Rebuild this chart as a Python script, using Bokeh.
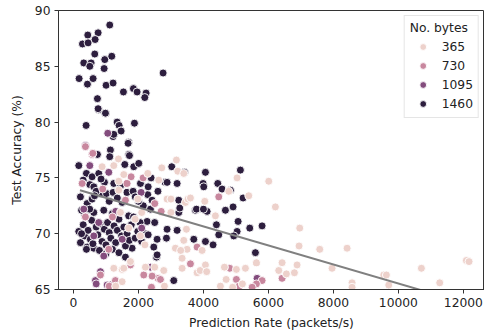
from bokeh.plotting import figure
from bokeh.models import Range1d, FixedTicker, Legend, LegendItem, ColumnDataSource
from bokeh.embed import file_html
from bokeh.resources import INLINE

# ---------------- data ----------------
byte_levels = [365, 730, 1095, 1460]
level_colors = ["#edd1cb", "#c8879e", "#834c7d", "#2d1e3e"]

x_1460 = [1117, 441, 759, 277, 451, 667, 656, 318, 544, 503, 964, 1179, 944, 2759, 174, 431, 605,
          1005, 1220, 1538, 1846, 1959, 2236, 2195, 738, 779, 995, 1344, 1405, 1877, 390, 1456,
          1220, 1702, 1138, 1702, 738, 1117, 1723, 1467, 1241, 1682, 985, 759,
          164, 1580, 1856, 2010, 3026, 400, 575, 779, 2390, 2821, 3190, 503, 626, 954, 1241, 2062,
          4062, 3415, 3990, 2882, 5138, 4441, 4010, 4574, 4831, 5220, 4913, 4677, 4113, 4400, 5067,
          5426, 5805, 5036, 4472, 4933, 4062, 4297, 5600,
          831, 1015, 1220, 1651, 1836, 2287, 2420, 3241, 215, 421, 575, 626, 933, 1200, 1700, 2369,
          3241, 3272, 3754, 3785, 4000, 2267, 2500, 3190, 2882, 3703, 2575, 2862, 2472, 2554, 2575,
          3087, 1805, 215, 421, 626, 164,
          300, 350, 450, 520, 560, 700, 750, 820, 880, 950, 1000, 1050, 1100, 1150, 1250, 1300, 1350,
          1400, 1480, 1550, 1600, 1650, 1720, 1780, 1850, 1900, 1980, 2050, 2100, 2150, 2200, 2300,
          2000, 1900, 1500, 1350, 1100, 700, 500, 350, 250, 250, 400, 600, 800, 1000, 1200, 1400,
          1600, 2300, 2600, 1450, 850, 300, 650]
y_1460 = [88.7, 87.8, 88.0, 87.0, 87.1, 87.4, 86.1, 85.3, 85.3, 85.0, 85.6, 85.9, 84.8, 84.4, 83.9,
          83.4, 83.9, 83.3, 83.5, 82.7, 83.0, 82.7, 82.6, 82.2, 82.1, 81.1, 80.8, 80.0, 79.7, 79.9,
          79.7, 79.2, 78.7, 78.2, 77.5, 77.1, 77.1, 76.9, 77.0, 79.2, 78.9, 78.1, 80.8, 81.2,
          76.1, 76.2, 76.0, 76.3, 76.0, 75.4, 75.1, 75.4, 75.0, 74.6, 74.5, 74.4, 74.2, 74.6, 74.5,
          74.5, 75.5, 75.5, 74.5, 74.6, 75.7, 74.5, 74.2, 74.0, 73.9, 73.2, 72.4, 72.1, 72.0, 70.8,
          71.1, 70.5, 70.7, 70.2, 69.9, 69.8, 69.3, 69.0, 68.3,
          73.6, 73.6, 73.7, 73.7, 73.8, 73.5, 73.0, 73.0, 73.3, 72.7, 73.1, 71.9, 72.1, 71.8, 71.6,
          72.2, 71.9, 72.3, 72.1, 72.2, 72.2, 71.1, 71.0, 70.3, 70.4, 69.5, 69.5, 69.6, 68.8, 67.9,
          68.1, 65.8, 68.7, 69.2, 68.8, 68.7, 70.2,
          70.8, 69.8, 70.3, 69.5, 71.2, 70.6, 69.9, 70.9, 69.3, 70.4, 69.0, 71.0, 70.1, 69.6, 70.7,
          69.2, 70.3, 71.3, 69.8, 70.6, 68.9, 70.0, 69.4, 70.8, 71.5, 69.6, 70.2, 71.0, 69.3, 72.5,
          70.0, 69.9, 72.9, 73.3, 72.8, 73.2, 72.9, 73.8, 72.2, 71.6, 72.1, 70.0, 68.6, 69.1, 68.5,
          68.2, 68.6, 68.3, 67.9, 74.2, 73.8, 74.3, 74.9, 74.8, 73.4]

x_1095 = [1056, 369, 503, 1087, 2082, 318, 779, 626, 933, 1036, 831, 677, 1138, 5651, 2369, 1500,
          2100, 1300, 700]
y_1095 = [79.0, 77.9, 76.1, 75.5, 73.7, 72.2, 71.0, 69.8, 68.0, 65.4, 66.6, 65.8, 65.4, 66.0, 67.0,
          69.5, 70.5, 72.0, 65.5]

x_730 = [575, 369, 595, 1774, 2144, 267, 1651, 2503, 369, 1087, 831, 2605, 2420, 2677, 2164, 1292,
         3805, 3600, 4472, 4810, 5015, 5805, 6421, 5631, 1754, 1100, 2400, 5100, 5500, 1200, 1600,
         900, 2700]
y_730 = [77.1, 77.8, 77.2, 75.1, 75.0, 74.5, 74.5, 72.7, 71.5, 68.6, 66.3, 66.0, 66.2, 65.9, 66.3,
         65.8, 68.8, 67.3, 73.3, 66.9, 65.9, 65.8, 66.0, 65.5, 67.2, 65.3, 65.2, 65.3, 65.2, 71.5,
         73.0, 74.0, 72.0]

x_365 = [1385, 882, 1241, 2718, 3169, 3210, 3395, 1549, 2287, 2625, 1395, 1395, 1980, 2882, 3000,
         3446, 1446, 2100, 3000, 1900, 1700, 2062, 3395, 3138, 2200, 1754, 1241, 1500, 2215, 2779,
         3344, 3344, 3805, 3900, 1549, 1497, 1300, 3497, 3300, 3477, 3528, 3600, 4041, 5036, 6010,
         4780, 5395, 6215, 4369, 6964, 3959, 6943, 7579, 8421, 5631, 6421, 6882, 7959, 4062, 4100,
         4646, 5015, 5292, 6318, 6554, 6800, 4700, 5200, 4523, 8574, 8574, 9549, 9631, 9703, 10708,
         11272, 12092, 12174, 4900, 2800, 2500]
y_365 = [76.7, 76.0, 76.1, 75.9, 76.6, 75.6, 75.4, 75.3, 75.4, 74.8, 74.7, 73.9, 73.1, 73.1, 73.1,
         72.8, 71.9, 71.9, 71.9, 71.3, 70.5, 69.8, 69.4, 68.7, 69.0, 67.5, 66.9, 66.8, 67.0, 66.7,
         67.8, 66.9, 66.5, 66.7, 66.9, 65.7, 65.3, 68.6, 68.5, 70.4, 73.1, 73.2, 72.9, 75.0, 74.7,
         73.8, 73.4, 72.4, 71.6, 70.5, 68.5, 68.9, 68.6, 68.7, 67.4, 67.4, 67.2, 66.9, 67.2, 66.6,
         67.0, 66.8, 66.9, 66.7, 66.4, 66.5, 65.9, 65.5, 65.3, 65.6, 65.2, 66.3, 66.3, 65.4, 66.9,
         65.6, 67.6, 67.5, 65.2, 65.3, 67.0]

# regression line end points
reg_x = [200, 12200]
reg_y = [73.9, 63.66]

x_ticks = [0, 2000, 4000, 6000, 8000, 10000, 12000]
y_ticks = [65, 70, 75, 80, 85, 90]

# ---------------- figure ----------------
FONT = "DejaVu Sans"
FS = "12.3px"
p = figure(width=484, height=333, output_backend="svg", toolbar_location=None,
           x_range=Range1d(-460, 12650), y_range=Range1d(65, 90),
           min_border_left=58, min_border_right=0, min_border_top=10, min_border_bottom=44)
p.grid.visible = False
p.outline_line_color = "#333333"
p.outline_line_width = 1
p.background_fill_color = "white"
p.border_fill_color = "white"

for ax in (p.xaxis[0], p.yaxis[0]):
    ax.axis_line_color = "#333333"
    ax.major_tick_line_color = "#333333"
    ax.minor_tick_line_color = None
    ax.major_tick_in = 0
    ax.major_tick_out = 4
    ax.major_label_text_font = FONT
    ax.major_label_text_font_size = FS
    ax.major_label_text_color = "#222222"
    ax.axis_label_text_font = FONT
    ax.axis_label_text_font_size = FS
    ax.axis_label_text_font_style = "normal"
    ax.axis_label_text_color = "#222222"
    ax.major_label_standoff = 4

p.xaxis.ticker = FixedTicker(ticks=x_ticks)
p.yaxis.ticker = FixedTicker(ticks=y_ticks)
p.xaxis.axis_label = "Prediction Rate (packets/s)"
p.yaxis.axis_label = "Test Accuracy (%)"
p.xaxis.axis_label_standoff = 6
p.yaxis.axis_label_standoff = 8

series = {
    365: (x_365, y_365),
    730: (x_730, y_730),
    1095: (x_1095, y_1095),
    1460: (x_1460, y_1460),
}
renderers = {}
draw_order = [1460, 1095, 730, 365]
for lvl in draw_order:
    xs, ys = series[lvl]
    col = level_colors[byte_levels.index(lvl)]
    src = ColumnDataSource(dict(x=xs, y=ys))
    r = p.scatter("x", "y", source=src, size=8, fill_color=col, line_color="white",
                  line_width=0.9, marker="circle")
    renderers[lvl] = r

p.line(reg_x, reg_y, line_color="#808080", line_width=2)

items = [LegendItem(label=str(lvl), renderers=[renderers[lvl]]) for lvl in byte_levels]
legend = Legend(items=items, location="top_right", title="No. bytes")
legend.title_text_font = FONT
legend.title_text_font_size = FS
legend.title_text_font_style = "normal"
legend.title_text_color = "#222222"
legend.title_standoff = 3
legend.label_text_font = FONT
legend.label_text_font_size = FS
legend.label_text_color = "#222222"
legend.glyph_width = 26
legend.glyph_height = 17
legend.label_height = 17
legend.label_standoff = 6
legend.spacing = 2
legend.padding = 5
legend.margin = 5
legend.border_line_color = "#cccccc"
legend.border_line_width = 1
legend.background_fill_color = "white"
legend.background_fill_alpha = 0.8
p.add_layout(legend)

open("out.html", "w").write(file_html(p, INLINE))
